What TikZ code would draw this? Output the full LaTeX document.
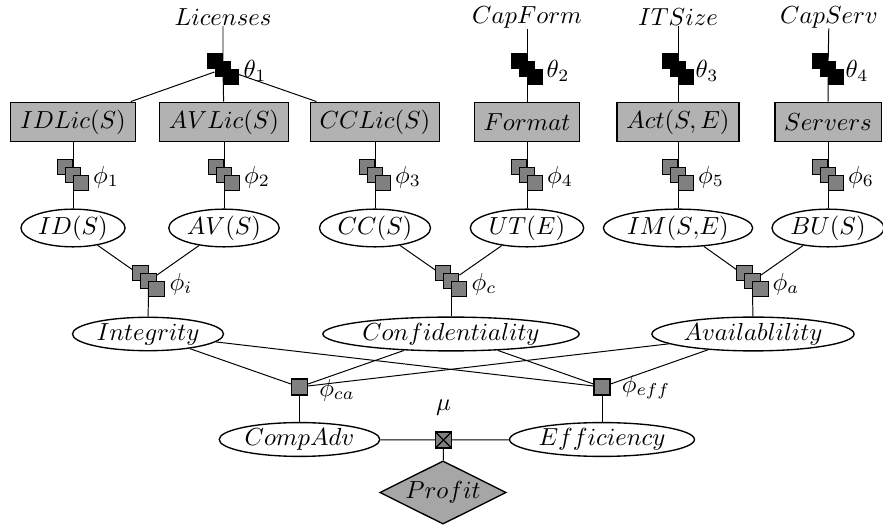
\documentclass[tikz,border=0pt]{standalone}
\usetikzlibrary{shapes.geometric,backgrounds}
\begin{document}
\begin{tikzpicture}[x=0.4052pt,y=-0.4052pt,line width=0.55pt,
  lbl/.style={inner sep=0pt},
  boxn/.style={rectangle,draw,fill=black!30,inner xsep=3.8pt,inner ysep=0pt,minimum height=16pt},
  elln/.style={ellipse,draw,fill=white,inner xsep=0.8pt,inner ysep=0.4pt},
  fac/.style={rectangle,draw,fill=#1,minimum size=6.3pt,inner sep=0pt,
    preaction={transform canvas={shift={(-3.25pt,3.25pt)}},draw,fill=#1},
    postaction={transform canvas={shift={(3.25pt,-3.25pt)}},draw,fill=#1}},
  gfac/.style={fac=black!50},
  bfac/.style={fac=black},
  sfac/.style={rectangle,draw,fill=black!50,minimum size=6.4pt,inner sep=0pt},
  mufac/.style={rectangle,draw,fill=black!50,minimum size=6.5pt,inner sep=0pt,
    path picture={\draw (path picture bounding box.north west)--(path picture bounding box.south east)
      (path picture bounding box.north east)--(path picture bounding box.south west);}},
  dia/.style={diamond,draw,fill=black!35,aspect=2,inner sep=0.5pt,minimum width=50pt,minimum height=24.6pt}]
\useasboundingbox (0,0) rectangle (883,525);

% top labels
\node[lbl] (lic) at (223,17) {$Licenses$};
\node[lbl] (capf) at (527,17) {$CapForm$};
\node[lbl] (its) at (678,17) {$ITSize$};
\node[lbl] (caps) at (829,17) {$CapServ$};

% theta factors
\node[bfac] (t1) at (223,69) {};
\node[bfac] (t2) at (527,69) {};
\node[bfac] (t3) at (678,69) {};
\node[bfac] (t4) at (828,69) {};
\node[lbl] at (255,71) {$\theta_1$};
\node[lbl] at (558,71) {$\theta_2$};
\node[lbl] at (707,71) {$\theta_3$};
\node[lbl] at (857,71) {$\theta_4$};

% boxes
\node[boxn] (idl) at (73,122) {$IDLic(S)$};
\node[boxn] (avl) at (224,122) {$AVLic(S)$};
\node[boxn] (ccl) at (375,122) {$CCLic(S)$};
\node[boxn] (fmt) at (527,122) {$Format$};
\node[boxn] (act) at (678,122) {$Act(S,E)$};
\node[boxn] (srv) at (828,122) {$Servers$};

% phi factors
\node[gfac] (f1) at (73,175) {};
\node[gfac] (f2) at (224,175) {};
\node[gfac] (f3) at (375,175) {};
\node[gfac] (f4) at (527,175) {};
\node[gfac] (f5) at (678,175) {};
\node[gfac] (f6) at (828,175) {};
\node[lbl] at (106,177) {$\phi_1$};
\node[lbl] at (257,177) {$\phi_2$};
\node[lbl] at (408,177) {$\phi_3$};
\node[lbl] at (560,177) {$\phi_4$};
\node[lbl] at (711,177) {$\phi_5$};
\node[lbl] at (861,177) {$\phi_6$};

% first level ellipses
\node[elln] (id) at (73,228) {$ID(S)$};
\node[elln] (av) at (224,228) {$AV(S)$};
\node[elln] (cc) at (375,228) {$CC(S)$};
\node[elln] (ut) at (527,228) {$UT(E)$};
\node[elln] (im) at (678,228) {$IM(S{,}E)$};
\node[elln] (bu) at (828,228) {$BU(S)$};

% second factors
\node[gfac] (fi) at (148.5,281) {};
\node[gfac] (fc) at (451,281) {};
\node[gfac] (fa) at (752.5,281) {};
\node[lbl] at (181,284) {$\phi_i$};
\node[lbl] at (484,284) {$\phi_c$};
\node[lbl] at (786,284) {$\phi_a$};

% second level ellipses
\node[elln] (integ) at (148,334) {$Integrity$};
\node[elln] (conf) at (451,334) {$Confidentiality$};
\node[elln] (avail) at (753,334) {$Availablility$};

% single factors
\node[sfac] (fca) at (299.5,387) {};
\node[sfac] (feff) at (602,387) {};
\node[lbl] at (337,390) {$\phi_{ca}$};
\node[lbl] at (646,387) {$\phi_{eff}$};

% bottom
\node[elln] (comp) at (299.5,439.5) {$CompAdv$};
\node[elln] (eff) at (602,439.5) {$Efficiency$};
\node[mufac] (mu) at (443.5,440) {};
\node[lbl] at (443.5,408) {$\mu$};
\node[dia] (profit) at (443,492.5) {$Profit$};

\begin{scope}[on background layer]
\draw (lic) -- (t1) -- (avl);
\draw (t1) -- (idl);
\draw (t1) -- (ccl);
\draw (capf) -- (t2) -- (fmt);
\draw (its) -- (t3) -- (act);
\draw (caps) -- (t4) -- (srv);
\draw (idl) -- (f1) -- (id);
\draw (avl) -- (f2) -- (av);
\draw (ccl) -- (f3) -- (cc);
\draw (fmt) -- (f4) -- (ut);
\draw (act) -- (f5) -- (im);
\draw (srv) -- (f6) -- (bu);
\draw (id) -- (fi) -- (av);
\draw (fi) -- (integ);
\draw (cc) -- (fc) -- (ut);
\draw (fc) -- (conf);
\draw (im) -- (fa) -- (bu);
\draw (fa) -- (avail);
\draw (integ) -- (fca);
\draw (conf) -- (fca);
\draw (avail) -- (fca);
\draw (integ) -- (feff);
\draw (conf) -- (feff);
\draw (avail) -- (feff);
\draw (fca) -- (comp);
\draw (feff) -- (eff);
\draw (comp) -- (mu) -- (eff);
\draw (mu) -- (profit);
\end{scope}
\end{tikzpicture}
\end{document}
